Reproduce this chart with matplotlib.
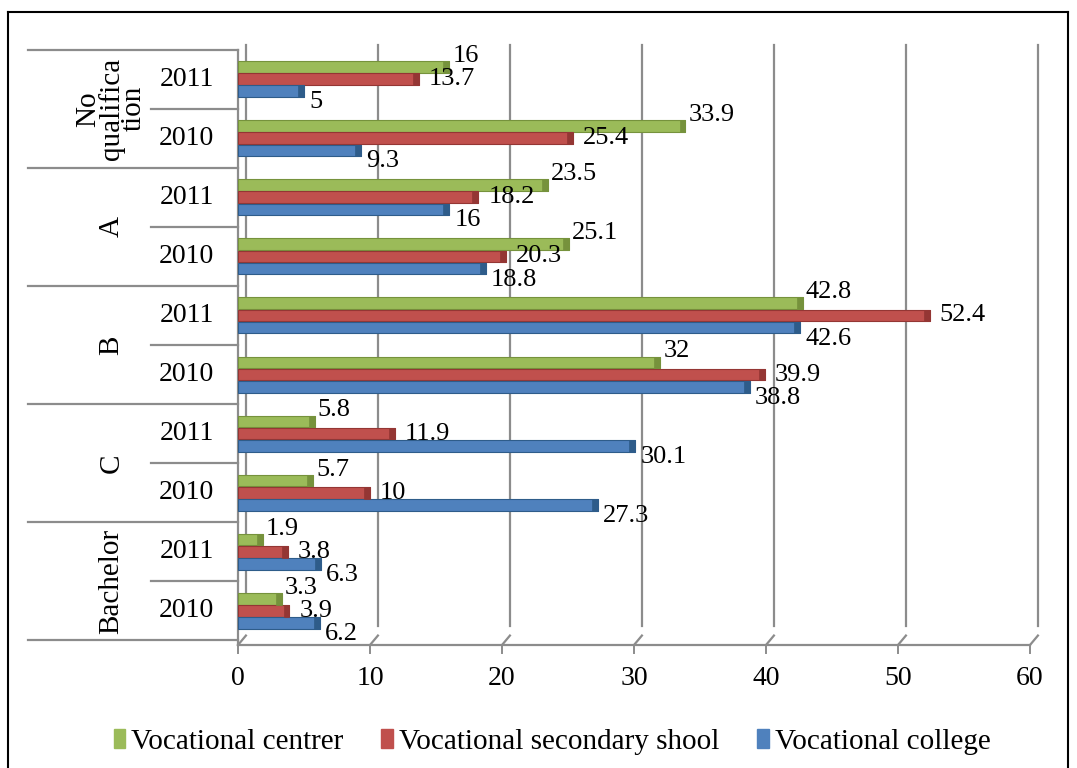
"""
Qualification of graduates by type of vocational school, 2010 vs 2011.
Horizontal grouped bars with a two-level category axis (Excel look).
"""

import matplotlib.pyplot as plt
import matplotlib.transforms as mtransforms
from matplotlib.patches import Rectangle
from matplotlib.lines import Line2D

plt.rcParams["font.family"] = ["Liberation Serif", "DejaVu Serif"]

# ── Data (top to bottom) ──────────────────────────────────────────────────────
GROUPS = ["No\nqualifica\ntion", "A", "B", "C", "Bachelor"]
YEARS = ["2011", "2010"]
SERIES = ["Vocational centrer", "Vocational secondary shool", "Vocational college"]

centre = [16, 33.9, 23.5, 25.1, 42.8, 32, 5.8, 5.7, 1.9, 3.3]
secondary = [13.7, 25.4, 18.2, 20.3, 52.4, 39.9, 11.9, 10, 3.8, 3.9]
college = [5, 9.3, 16, 18.8, 42.6, 38.8, 30.1, 27.3, 6.3, 6.2]

X_TICKS = [0, 10, 20, 30, 40, 50, 60]

COLORS = ["#9BBB59", "#C0504D", "#4F81BD"]
EDGES = ["#76923C", "#943634", "#2E5C8A"]

# ── Figure ────────────────────────────────────────────────────────────────────
W, H = 1077, 768
fig = plt.figure(figsize=(W / 100, H / 100), dpi=100)

def px(x, y):
    """pixel (from top-left) -> figure fraction"""
    return x / W, 1 - y / H

# axes box: x 238..1030, y 45..645 (pixels)
ax = fig.add_axes([238 / W, 1 - 645 / H, 792 / W, 600 / H])
ax.set_xlim(0, 60)
ax.set_ylim(9.58, -0.58)
ax.axis("off")

n = len(centre)
slots = list(range(n))
bh = 0.205
offsets = [-bh, 0, bh]
values = [centre, secondary, college]

# back wall gridlines (3D offset)
grid = "#8C8C8C"
back = mtransforms.offset_copy(ax.transData, fig=fig, x=8, y=10, units="dots")
for t in X_TICKS:
    ax.plot([t, t], [9.42, -0.41], color=grid, lw=1.6, transform=back,
            clip_on=False, zorder=0)
    ax.plot([t, t + 0.6], [9.58, 9.42], color=grid, lw=1.6, clip_on=False,
            zorder=0)
# floor / axis line and left wall
ax.plot([0, 60], [9.58, 9.58], color=grid, lw=1.6, clip_on=False)
ax.plot([0, 0], [9.58, -0.5], color=grid, lw=1.6, clip_on=False)

# bars
for vals, off, c, ec in zip(values, offsets, COLORS, EDGES):
    ys = [s + off for s in slots]
    ax.barh(ys, vals, height=bh * 0.97, color=c, edgecolor=ec, lw=0.8, zorder=3)
    # darker end cap for the 3D look
    caps = [v - 0.45 for v in vals]
    ax.barh(ys, [0.45] * n, left=caps, height=bh * 0.97, color=ec,
            edgecolor=ec, lw=0.5, zorder=4)

# data labels
label_offsets = [(3, 11), (10, 0), (5, -11)]
for vals, off, (dx, dy) in zip(values, offsets, label_offsets):
    tr = mtransforms.offset_copy(ax.transData, fig=fig, x=dx, y=dy, units="dots")
    for s, v in zip(slots, vals):
        ax.text(v, s + off, f"{v:g}", transform=tr, ha="left", va="center",
                fontsize=19, zorder=5)

# x tick labels and ticks
for t in X_TICKS:
    ax.plot([t, t], [9.58, 9.72], color=grid, lw=1.4, clip_on=False)
    ax.text(t, 10.15, str(t), ha="center", va="center", fontsize=20)

# ── Two-level category axis ───────────────────────────────────────────────────
ln = dict(color=grid, lw=1.6, clip_on=False)
x_outer = -15.9   # ~x=25 px
x_inner = -6.6    # ~x=150 px
for g in range(len(GROUPS) + 1):
    yb = 2 * g - 0.5
    ax.plot([x_outer, 0], [yb, yb], **ln)
for g in range(len(GROUPS)):
    ax.plot([x_inner, 0], [2 * g + 0.5, 2 * g + 0.5], **ln)
    ax.text(-9.6, 2 * g + 0.5, GROUPS[g], rotation=90, ha="center",
            va="center", fontsize=21, linespacing=0.82)
    for k, yr in enumerate(YEARS):
        ax.text(-3.9, 2 * g + k, yr, ha="center", va="center", fontsize=20)

# ── Legend ────────────────────────────────────────────────────────────────────
handles = [Rectangle((0, 0), 1, 1, color=c) for c in COLORS]
fig.legend(handles, SERIES, loc="center", bbox_to_anchor=(px(552, 742)),
           ncol=3, frameon=False, fontsize=21, handlelength=0.4,
           handleheight=0.6, handletextpad=0.2, columnspacing=1.3)

# outer frame
fig.add_artist(Line2D([8 / W, 8 / W], [0, 1 - 12 / H], color="black", lw=1.5))
fig.add_artist(Line2D([8 / W, 1068 / W], [1 - 12 / H, 1 - 12 / H], color="black", lw=1.5))
fig.add_artist(Line2D([1068 / W, 1068 / W], [0, 1 - 12 / H], color="black", lw=1.5))

fig.savefig("out.png", dpi=100, facecolor="white")
